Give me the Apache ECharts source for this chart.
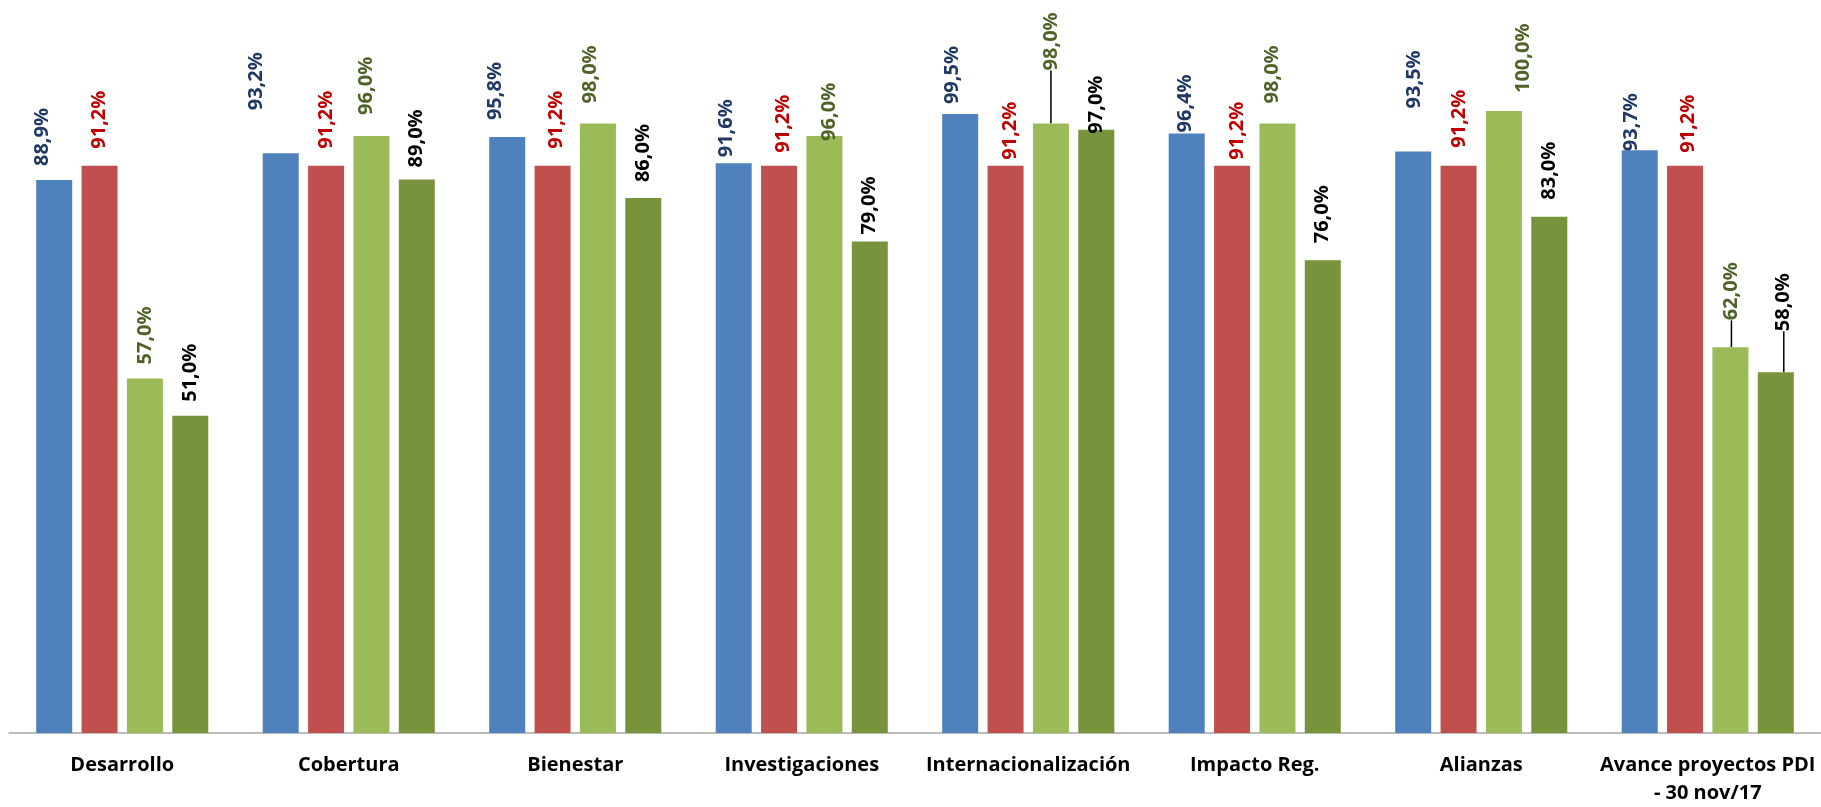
<!DOCTYPE html>
<html>
<head>
<meta charset="utf-8">
<script src="https://cdn.jsdelivr.net/npm/echarts@6/dist/echarts.min.js"></script>
<style>
  html, body { margin: 0; padding: 0; background: #ffffff; }
  #chart { width: 1821px; height: 807px; }
</style>
</head>
<body>
<div id="chart"></div>
<script>
// ---- Data ----
const categories = ['Desarrollo', 'Cobertura', 'Bienestar', 'Investigaciones',
  'Internacionalización', 'Impacto Reg.', 'Alianzas', 'Avance proyectos PDI\n- 30 nov/17'];
const serie1 = [88.9, 93.2, 95.8, 91.6, 99.5, 96.4, 93.5, 93.7];
const serie2 = [91.2, 91.2, 91.2, 91.2, 91.2, 91.2, 91.2, 91.2];
const serie3 = [57.0, 96.0, 98.0, 96.0, 98.0, 98.0, 100.0, 62.0];
const serie4 = [51.0, 89.0, 86.0, 79.0, 97.0, 76.0, 83.0, 58.0];

// ---- Styling (label nudges on screen: [dx, gap above bar]) ----
const barColors = ['#4F81BD', '#C0504D', '#9BBB59', '#77933C'];
const labelColors = ['#1F3864', '#C00000', '#4F6228', '#000000'];
const labelNudge = [
  [[-12, 14], [-24, 43], [-12, 17], [-7, 6], [-8, 10], [-1, 1], [1, 43], [-8, -1]],
  [[0, 17], [0, 17], [4, 17], [4, 13], [5, 6], [5, 6], [1, 18], [3, 13]],
  [[0, 14], [-5, 21], [-8, 20], [5, -5], [0, 53], [-5, 20], [19, 18], [1, 27]],
  [[0, 14], [0, 12], [0, 16], [0, 7], [0, -4], [0, 17], [0, 17], [8, 41]]
];
const leaderLines = { 2: [4, 7], 3: [7] };

const FONT = '"Open Sans", Lato, sans-serif';
const fmt = v => v.toFixed(1).replace('.', ',') + '%';

const allSeries = [serie1, serie2, serie3, serie4];
const series = allSeries.map((vals, si) => ({
  name: 'S' + (si + 1),
  type: 'bar',
  barWidth: 36,
  barGap: '26%',
  itemStyle: { color: barColors[si] },
  label: {
    show: true,
    position: 'top',
    distance: 0,
    rotate: 90,
    align: 'left',
    verticalAlign: 'middle',
    color: labelColors[si],
    fontFamily: FONT,
    fontWeight: 'bold',
    fontSize: 20,
    formatter: p => fmt(p.value)
  },
  labelLine: { show: false, lineStyle: { color: '#000', width: 1.5 } },
  // label frame is rotated 90deg: local x points up, local y points right
  labelLayout: p => {
    const n = labelNudge[si][p.dataIndex];
    return { dx: n[1], dy: n[0] };
  },
  data: vals.map((v, i) => {
    const item = { value: v };
    if (leaderLines[si] && leaderLines[si].indexOf(i) >= 0) {
      item.labelLine = { show: true, lineStyle: { color: '#000', width: 1.5 } };
    }
    return item;
  })
}));

const chart = echarts.init(document.getElementById('chart'), null, { renderer: 'canvas' });
chart.setOption({
  backgroundColor: '#ffffff',
  animation: false,
  grid: { left: 9, width: 1816, top: 111, bottom: 71 },
  xAxis: {
    type: 'category',
    data: categories,
    axisTick: { show: false },
    axisLine: { lineStyle: { color: '#A6A6A6', width: 1.5 } },
    axisLabel: {
      interval: 0,
      margin: 18,
      color: '#000',
      fontFamily: FONT,
      fontWeight: 'bold',
      fontSize: 20,
      lineHeight: 28
    }
  },
  yAxis: {
    type: 'value',
    min: 0,
    max: 100,
    show: false,
    splitLine: { show: false }
  },
  series: series
});
</script>
</body>
</html>
